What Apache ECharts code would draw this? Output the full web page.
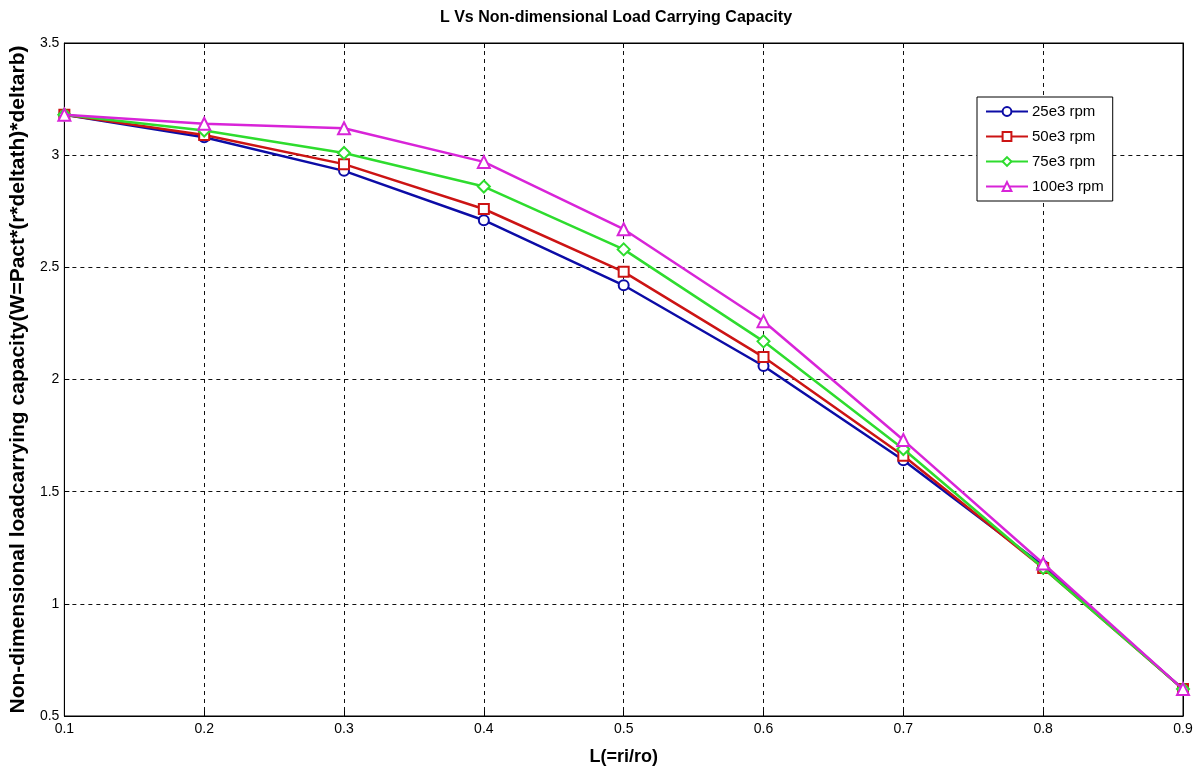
<!DOCTYPE html>
<html>
<head>
<meta charset="utf-8">
<script src="https://cdn.jsdelivr.net/npm/echarts@6/dist/echarts.min.js"></script>
<style>html,body{margin:0;padding:0;background:#fff;}#c{width:1204px;height:771px;}</style>
</head>
<body>
<div id="c"></div>
<script>
const categories = ['0.1','0.2','0.3','0.4','0.5','0.6','0.7','0.8','0.9'];
const rpm25 = [3.18, 3.08, 2.93, 2.71, 2.42, 2.06, 1.64, 1.17, 0.62];
const rpm50 = [3.18, 3.09, 2.96, 2.76, 2.48, 2.10, 1.66, 1.16, 0.62];
const rpm75 = [3.18, 3.11, 3.01, 2.86, 2.58, 2.17, 1.69, 1.16, 0.62];
const rpm100 = [3.18, 3.14, 3.12, 2.97, 2.67, 2.26, 1.73, 1.18, 0.62];
const seriesNames = ['25e3 rpm','50e3 rpm','75e3 rpm','100e3 rpm'];
const seriesData = [rpm25, rpm50, rpm75, rpm100];
const colors = ['#0c0ca6','#cc1414','#2edc2e','#d824d8'];
const symbols = ['circle','rect','diamond','triangle'];

const font = 'Liberation Sans, Arial, sans-serif';
const chart = echarts.init(document.getElementById('c'));
const tickStyle = {show:true, inside:true, length:5, lineStyle:{color:'#000'}};
chart.setOption({
  animation:false,
  backgroundColor:'#fff',
  title:{text:'L Vs Non-dimensional Load Carrying Capacity', left:611, textAlign:'center', top:5,
    textStyle:{fontFamily:font, fontSize:16, fontWeight:'bold', color:'#000'}},
  grid:{left:62, right:21, top:43, bottom:54, show:true, borderColor:'#000', borderWidth:1, backgroundColor:'#fff'},
  legend:{orient:'vertical', left:977, top:97,
    backgroundColor:'#fff', borderColor:'#000', borderWidth:1, padding:[7,9,7,8],
    itemGap:10, itemWidth:42, itemHeight:11,
    textStyle:{fontFamily:font, fontSize:15, color:'#000', padding:[0,0,0,-1]},
    data:seriesNames},
  xAxis:[{type:'category', data:categories, boundaryGap:false,
    name:'L(=ri/ro)', nameLocation:'middle', nameGap:32,
    nameTextStyle:{fontFamily:font, fontSize:18, fontWeight:'bold', color:'#000'},
    axisLine:{lineStyle:{color:'#000'}}, axisTick:Object.assign({interval:0}, tickStyle),
    axisLabel:{interval:0, fontFamily:font, fontSize:14, color:'#000', margin:6},
    splitLine:{show:true, interval:0, lineStyle:{color:'#111', type:[4,4], width:1}}},
   {type:'category', data:categories, boundaryGap:false, position:'top',
    axisLine:{lineStyle:{color:'#000'}}, axisTick:Object.assign({interval:0}, tickStyle),
    axisLabel:{show:false}, splitLine:{show:false}}],
  yAxis:[{type:'value', min:0.5, max:3.5, interval:0.5,
    name:'Non-dimensional loadcarrying capacity(W=Pact*(r*deltath)*deltarb)', nameLocation:'middle', nameGap:33,
    nameTextStyle:{fontFamily:font, fontSize:21, fontWeight:'bold', color:'#000'},
    axisLine:{show:true, lineStyle:{color:'#000'}}, axisTick:tickStyle,
    axisLabel:{fontFamily:font, fontSize:14, color:'#000', margin:5},
    splitLine:{show:true, lineStyle:{color:'#111', type:[4,4], width:1}}},
   {type:'value', min:0.5, max:3.5, interval:0.5, position:'right',
    axisLine:{show:true, lineStyle:{color:'#000'}}, axisTick:tickStyle,
    axisLabel:{show:false}, splitLine:{show:false}}],
  series:seriesNames.map((n,i)=>({
    name:n, type:'line', data:seriesData[i], xAxisIndex:0, yAxisIndex:0,
    symbol:symbols[i], symbolSize: symbols[i]==='rect'?10:(symbols[i]==='circle'?10:12), showAllSymbol:true,
    lineStyle:{color:colors[i], width:2.5},
    itemStyle:{color:'#fff', borderColor:colors[i], borderWidth:2},
    z:2+i
  }))
});
</script>
</body>
</html>
